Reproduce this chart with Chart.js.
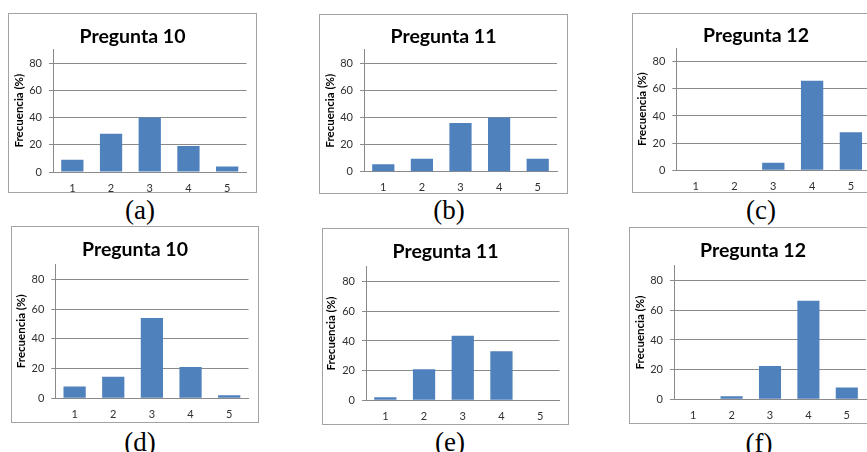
<!DOCTYPE html>
<html><head><meta charset="utf-8">
<script src="https://cdn.jsdelivr.net/npm/chart.js@4.4.0/dist/chart.umd.min.js"></script>
<style>
html,body{margin:0;padding:0;background:#fff;width:867px;height:452px;overflow:hidden;position:relative;}
.panel{position:absolute;}
.panel canvas{display:block;}
.cap{position:absolute;font-family:"Liberation Serif","DejaVu Serif",serif;font-size:27px;color:#000;transform:translate(-50%,-50%);line-height:1;white-space:nowrap;}
</style></head><body>
<script>
// ---- data ----
const categories = ['1','2','3','4','5'];
const yTickValues = [0, 20, 40, 60, 80];
const yMax = 90;
const yAxisLabel = 'Frecuencia (%)';
const titles = ['Pregunta 10','Pregunta 11','Pregunta 12','Pregunta 10','Pregunta 11','Pregunta 12'];
const captions = ['(a)','(b)','(c)','(d)','(e)','(f)'];
const valuesA = [9, 28, 40, 19, 4];
const valuesB = [5.5, 9.5, 36, 40, 9.5];
const valuesC = [0, 0, 5.5, 66, 28];
const valuesD = [8, 14.5, 54, 21, 2];
const valuesE = [2, 21, 43.5, 33, 0];
const valuesF = [0, 2, 22.5, 66.5, 8];
const seriesList = [valuesA, valuesB, valuesC, valuesD, valuesE, valuesF];

// ---- layout (pixels) ----
const layouts = [
  {box:[8,13,257,193],  plot:[53,246.5,49.4,172],   titleY:37,    yLabelX:19.5,  cap:[140,210]},
  {box:[319,14,568,194],plot:[364,557,49.8,171.7],  titleY:37,    yLabelX:330,   cap:[449,210]},
  {box:[632,13,880,193],plot:[676.3,870.3,48.1,170.3],titleY:35.7,yLabelX:642.5, cap:[761,210]},
  {box:[11,226,259,423],plot:[55.3,248.5,264.4,398.3],titleY:250, yLabelX:21.3,  cap:[140,442]},
  {box:[322,228,569,425],plot:[366,559.5,266.8,400.3],titleY:251.7,yLabelX:331.3,cap:[450,442]},
  {box:[629,227,877,424],plot:[674,866,265.8,399.3], titleY:251,  yLabelX:640.7, cap:[759,443]}
];

const BAR = '#4F81BD';
const GRID = '#8a8a8a';
const FRAME = '#a3a3a3';

const framePlugin = {
  id: 'frame',
  afterDraw(chart) {
    const ctx = chart.ctx;
    ctx.save();
    ctx.strokeStyle = FRAME;
    ctx.lineWidth = 1;
    ctx.strokeRect(0.5, 0.5, chart.width - 1, chart.height - 1);
    ctx.restore();
  }
};

layouts.forEach((g, i) => {
  const [L, T, R, B] = g.box;
  const [pl, pr, pt, pb] = g.plot;
  const W = R - L, H = B - T;
  const div = document.createElement('div');
  div.className = 'panel';
  div.style.left = L + 'px'; div.style.top = T + 'px';
  div.style.width = W + 'px'; div.style.height = H + 'px';
  const c = document.createElement('canvas');
  c.width = W; c.height = H;
  div.appendChild(c);
  document.body.appendChild(div);

  const cap = document.createElement('div');
  cap.className = 'cap';
  cap.style.left = g.cap[0] + 'px'; cap.style.top = g.cap[1] + 'px';
  cap.textContent = captions[i];
  document.body.appendChild(cap);

  const titleSize = 19.5, titleLH = titleSize * 1.2;
  const tTop = (g.titleY - T) - titleLH / 2;
  const tBot = (pt - T) - tTop - titleLH;
  const ySize = 11.5, yLH = ySize * 1.2;
  const yPad = (g.yLabelX - L) - yLH / 2;

  new Chart(c, {
    type: 'bar',
    data: {
      labels: categories,
      datasets: [{
        data: seriesList[i],
        yAxisID: 'y',
        backgroundColor: BAR,
        borderWidth: 0,
        barPercentage: 0.575,
        categoryPercentage: 1
      }]
    },
    options: {
      responsive: false,
      animation: false,
      devicePixelRatio: 1,
      layout: {padding: 0},
      plugins: {
        legend: {display: false},
        tooltip: {enabled: false},
        title: {
          display: true, text: titles[i], color: '#000',
          font: {family: 'Lato', size: titleSize, weight: 'bold', lineHeight: 1.2},
          padding: {top: tTop, bottom: tBot}
        }
      },
      scales: {
        x: {
          grid: {display: false, drawTicks: false},
          border: {display: true, color: GRID, width: 1},
          ticks: {color: '#303030', font: {family: 'Lato', size: 11}, padding: 9.5, maxRotation: 0},
          afterFit: s => { s.height = B - pb; }
        },
        y: {
          min: 0, max: yMax,
          afterBuildTicks: s => { s.ticks = yTickValues.map(v => ({value: v})); },
          grid: {color: GRID, lineWidth: 1, drawTicks: true, tickLength: 4},
          border: {display: true, color: GRID, width: 1},
          ticks: {color: '#303030', font: {family: 'Lato', size: 11}, padding: 7},
          title: {
            display: true, text: yAxisLabel, color: '#000',
            font: {family: 'Lato', size: ySize, weight: 'bold', lineHeight: 1.2},
            padding: {top: yPad, bottom: 0}
          },
          afterFit: s => { s.width = pl - L; }
        },
        yr: {
          axis: 'y', position: 'right', display: true,
          grid: {display: false, drawTicks: false},
          border: {display: false},
          ticks: {display: false},
          afterFit: s => { s.width = R - pr; }
        }
      }
    },
    plugins: [framePlugin]
  });
});
</script>
</body></html>
